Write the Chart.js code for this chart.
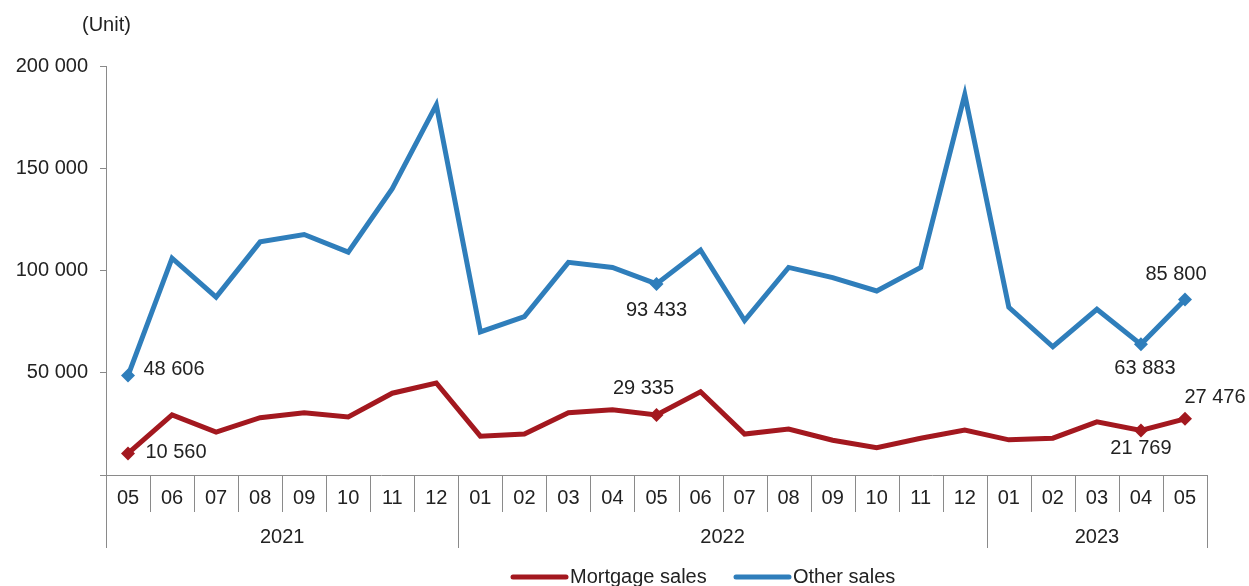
<!DOCTYPE html>
<html>
<head>
<meta charset="utf-8">
<script src="https://cdn.jsdelivr.net/npm/chart.js@4.4.1/dist/chart.umd.min.js"></script>
<style>
html,body{margin:0;padding:0;background:#fff;}
#wrap{position:relative;width:1249px;height:586px;}
</style>
</head>
<body>
<div id="wrap"><canvas id="c"></canvas></div>
<script>
// ---- data ----
const monthTicks = ['05','06','07','08','09','10','11','12','01','02','03','04','05','06','07','08','09','10','11','12','01','02','03','04','05'];
const yearTicks  = ['2021','2021','2021','2021','2021','2021','2021','2021','2022','2022','2022','2022','2022','2022','2022','2022','2022','2022','2022','2022','2023','2023','2023','2023','2023'];
const mortgageSales = [10560,29400,21000,28000,30400,28400,40000,45000,19000,20000,30400,31900,29335,40700,20000,22500,17000,13300,18000,22000,17200,18000,26000,21769,27476];
const otherSales    = [48606,106000,87000,114000,117600,109000,140000,181000,70000,77500,104000,101500,93433,110000,75500,101500,96500,90000,101500,186000,82000,62700,81000,63883,85800];
const yTicks = [0,50000,100000,150000,200000];
const seriesNames = ['Mortgage sales','Other sales'];
const unitLabel = '(Unit)';

// ---- styling / annotation placement (not data) ----
const RED = '#A3181F', BLUE = '#2F7EBB', TXT = '#222222', AXIS = '#8a8a8a';
const FONT = '"Liberation Sans", Arial, sans-serif';
const FS = 20;
// dataset index, point index, dx, dy (centre of text relative to the point)
const valueLabels = [
  [1, 0, 46, -6],
  [0, 0, 48, -1],
  [1, 12, 0, 27],
  [0, 12, -13, -27],
  [1, 23, 4, 24],
  [0, 23, 0, 18],
  [1, 24, -9, -25],
  [0, 24, 30, -21]
];
const markerIdx = [0, 12, 23, 24];

function fmt(v){ return String(v).replace(/\B(?=(\d{3})+(?!\d))/g, ' '); }

const customPlugin = {
  id: 'custom',
  afterDraw(chart){
    const ctx = chart.ctx, x = chart.scales.x, area = chart.chartArea;
    const step = x.getPixelForValue(1) - x.getPixelForValue(0);
    const bottom = area.bottom;
    ctx.save();
    ctx.strokeStyle = AXIS; ctx.lineWidth = 1;
    ctx.fillStyle = TXT;
    ctx.font = FS + 'px ' + FONT;
    ctx.textAlign = 'center'; ctx.textBaseline = 'middle';
    const n = monthTicks.length;
    for (let i = 0; i < n; i++){
      const cx = x.getPixelForValue(i);
      ctx.fillText(monthTicks[i], cx, bottom + 23);
    }
    // boundaries
    for (let i = 0; i <= n; i++){
      const bx = Math.round(x.getPixelForValue(i) - step/2) + 0.5;
      const yearEdge = (i === 0 || i === n || yearTicks[i] !== yearTicks[i-1]);
      ctx.beginPath();
      ctx.moveTo(bx, bottom);
      ctx.lineTo(bx, bottom + (yearEdge ? 73 : 37));
      ctx.stroke();
    }
    // year labels
    let start = 0;
    for (let i = 1; i <= n; i++){
      if (i === n || yearTicks[i] !== yearTicks[start]){
        const l = x.getPixelForValue(start) - step/2, r = x.getPixelForValue(i-1) + step/2;
        ctx.fillText(yearTicks[start], (l + r)/2, bottom + 62);
        start = i;
      }
    }
    // unit label
    ctx.textAlign = 'left';
    ctx.fillText(unitLabel, 82, 25);
    // legend
    const ly = 577;
    const items = [[RED, seriesNames[0], 513], [BLUE, seriesNames[1], 736]];
    items.forEach(([col, name, lx]) => {
      ctx.strokeStyle = col; ctx.lineWidth = 5; ctx.lineCap = 'round';
      ctx.beginPath(); ctx.moveTo(lx, ly); ctx.lineTo(lx + 53, ly); ctx.stroke();
      ctx.fillText(name, lx + 57, ly);
    });
    ctx.restore();
  },
  afterDatasetsDraw(chart){
    const ctx = chart.ctx;
    ctx.save();
    ctx.fillStyle = TXT;
    ctx.font = FS + 'px ' + FONT;
    ctx.textAlign = 'center'; ctx.textBaseline = 'middle';
    valueLabels.forEach(([d, i, dx, dy]) => {
      const pt = chart.getDatasetMeta(d).data[i];
      const v = chart.data.datasets[d].data[i];
      ctx.fillText(fmt(v), pt.x + dx, pt.y + dy);
    });
    ctx.restore();
  }
};

new Chart(document.getElementById('c'), {
  type: 'line',
  data: {
    labels: monthTicks,
    datasets: [
      { label: seriesNames[0], data: mortgageSales, borderColor: RED, backgroundColor: RED, borderWidth: 5,
        pointStyle: 'rectRot', pointRadius: c => markerIdx.includes(c.dataIndex) ? 7 : 0, pointHoverRadius: 7,
        pointBorderWidth: 0, tension: 0, borderJoinStyle: 'miter' },
      { label: seriesNames[1], data: otherSales, borderColor: BLUE, backgroundColor: BLUE, borderWidth: 5,
        pointStyle: 'rectRot', pointRadius: c => markerIdx.includes(c.dataIndex) ? 7 : 0, pointHoverRadius: 7,
        pointBorderWidth: 0, tension: 0, borderJoinStyle: 'miter' }
    ]
  },
  options: {
    responsive: true, maintainAspectRatio: false, animation: false,
    layout: { padding: { top: 66, right: 42, bottom: 111, left: 0 } },
    plugins: { legend: { display: false }, tooltip: { enabled: false } },
    scales: {
      x: {
        type: 'category', offset: true,
        ticks: { display: false },
        grid: { display: false },
        border: { display: true, color: AXIS, width: 1 },
        afterFit(s){ s.height = 0; }
      },
      y: {
        min: 0, max: 200000,
        afterBuildTicks(s){ s.ticks = yTicks.map(v => ({ value: v })); },
        ticks: { callback: v => v === 0 ? '' : fmt(v), color: TXT, font: { family: FONT, size: FS }, padding: 12 },
        grid: { drawOnChartArea: false, drawTicks: true, tickLength: 6, color: AXIS },
        border: { display: true, color: AXIS, width: 1 },
        afterFit(s){ s.width = 106; }
      }
    }
  },
  plugins: [customPlugin]
});
</script>
</body>
</html>
